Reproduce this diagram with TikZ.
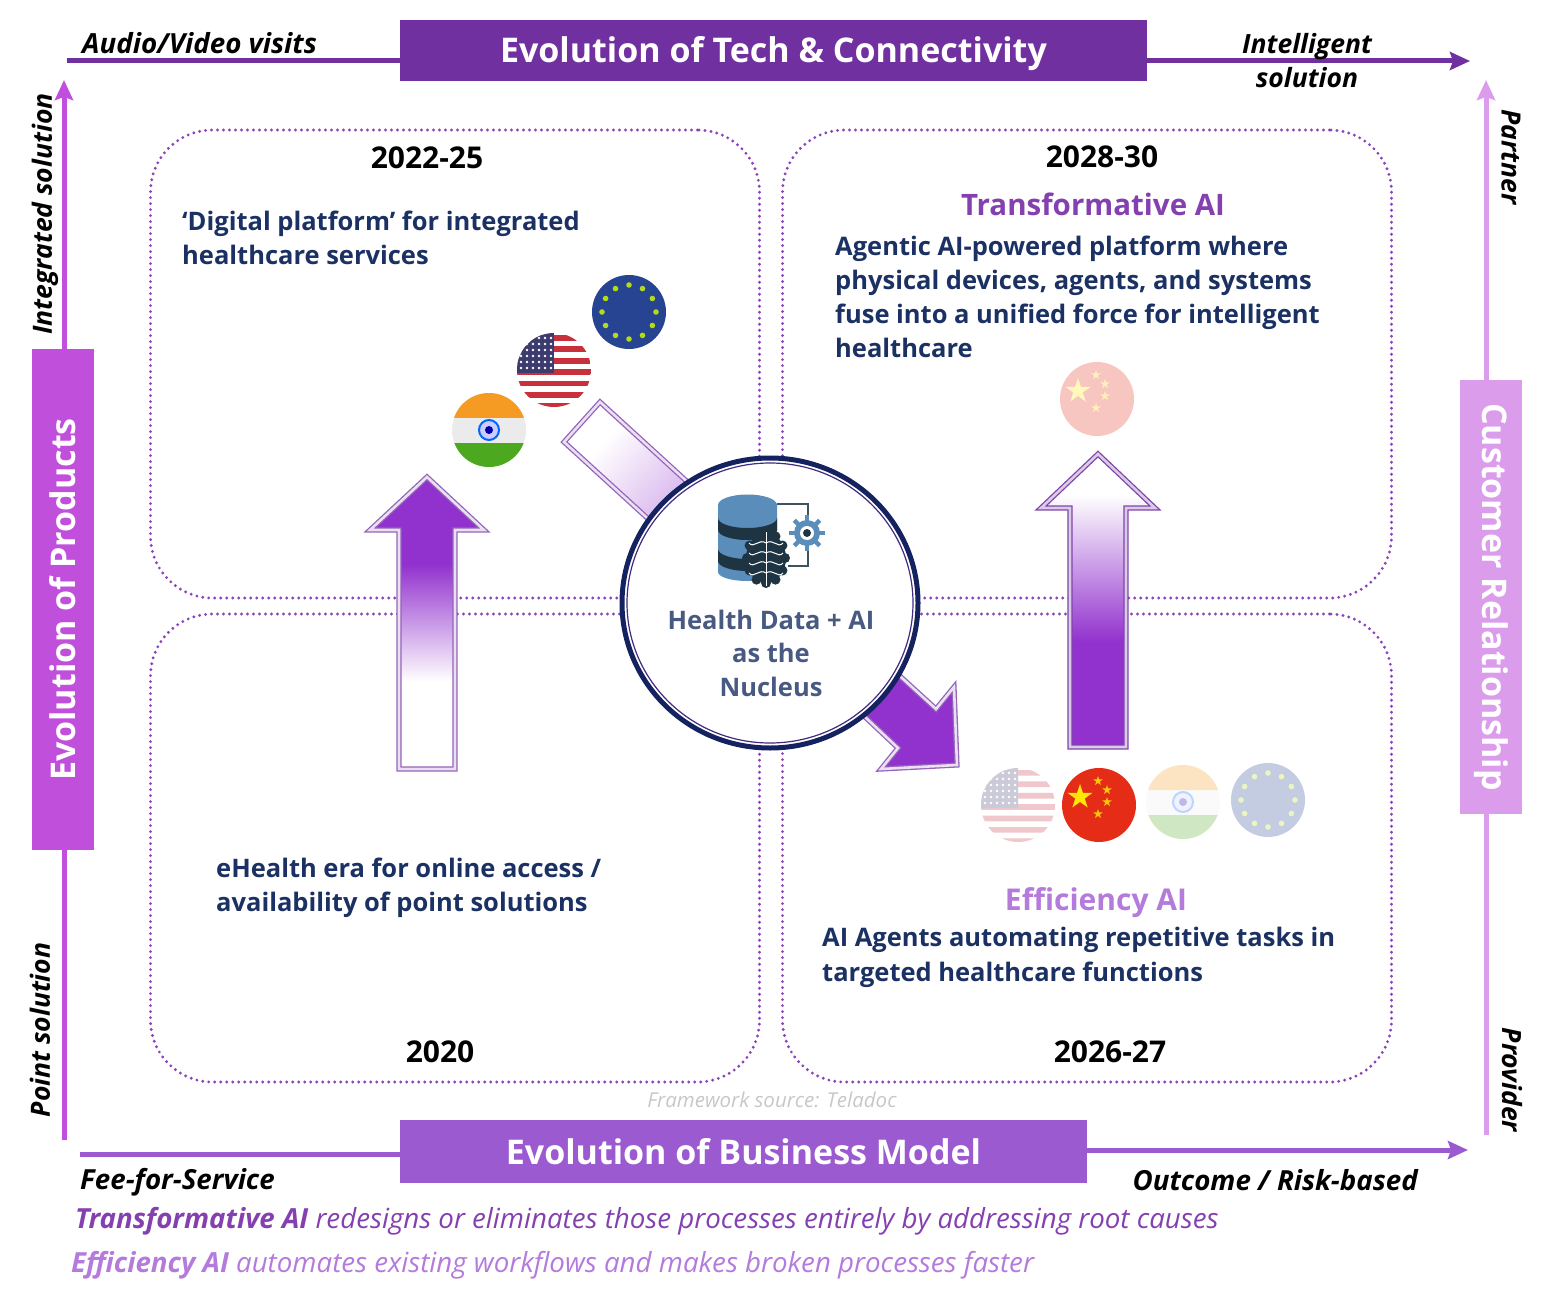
\documentclass[tikz,border=0pt]{standalone}
\usepackage{fontspec}
\setmainfont{Open Sans}
\usepackage{xcolor}
\usetikzlibrary{arrows.meta,positioning}
\definecolor{techpurple}{HTML}{7030A0}
\definecolor{productpurple}{HTML}{C04FDC}
\definecolor{modelpurple}{HTML}{9C5AD0}
\definecolor{clientpurple}{HTML}{DC9CEC}
\definecolor{arrowpurple}{HTML}{9232CE}
\definecolor{dotpurple}{HTML}{8A44B8}
\definecolor{bodynavy}{HTML}{1B3163}
\definecolor{ringnavy}{HTML}{14235F}
\definecolor{headpurple}{HTML}{8540B0}
\definecolor{softpurple}{HTML}{B47ADC}
\definecolor{dbblue}{HTML}{5B8DBA}
\definecolor{dbdark}{HTML}{1E3442}
\definecolor{flagorange}{HTML}{F59A23}
\definecolor{flaggreen}{HTML}{4CA81E}
\definecolor{flagred}{HTML}{C8303C}
\definecolor{flagnavy}{HTML}{3C3B6E}
\definecolor{flagblue}{HTML}{264491}
\definecolor{flagchina}{HTML}{E42C16}
\newcommand\fs[1]{\fontsize{#1}{#1}\selectfont}
\newcommand\flagstar[2]{\fill[shift={(#1)},scale=#2] (0,-1) -- (0.59,0.81) -- (-0.95,-0.31) -- (0.95,-0.31) -- (-0.59,0.81) -- cycle;}
\pgfdeclareverticalshading{fadeup}{100bp}{color(0bp)=(white);color(40bp)=(white);color(60bp)=(arrowpurple);color(100bp)=(arrowpurple)}
\pgfdeclareverticalshading{fadedown}{100bp}{color(0bp)=(arrowpurple);color(43bp)=(arrowpurple);color(68bp)=(white);color(100bp)=(white)}
\pgfdeclareverticalshading{fadeacross}{100bp}{color(0bp)=(white);color(22bp)=(white);color(58bp)=(arrowpurple);color(100bp)=(arrowpurple)}
\tikzset{
  banner/.style={inner sep=0pt, text=white, font=\fs{34}\bfseries},
  quadrant/.style={draw=dotpurple, line width=3.2pt, dash pattern=on 0pt off 6pt, line cap=round, rounded corners=62pt, minimum width=609pt, minimum height=468pt, inner sep=0pt},
  flow/.style={line width=5pt, -{Stealth[length=20pt,width=18pt,inset=3pt]}},
  year/.style={font=\fs{30}\bfseries, text=black, inner sep=0pt},
  bodytext/.style={font=\fs{25.5}\bfseries, text=bodynavy, align=left, anchor=north west, inner sep=0pt},
  heading/.style={font=\fs{30}\bfseries, inner sep=0pt},
  axislabel/.style={font=\fs{27.7}\bfseries\itshape, text=black, inner sep=0pt},
  sidelabel/.style={font=\fs{26.5}\bfseries\itshape, text=black, inner sep=0pt},
  blockarrow/.style={line width=1.3pt, double distance=2.6pt, miter limit=10},
  pics/indiaflag/.style={code={
    \begin{scope}
      \clip (0,0) circle (37);
      \fill[white!92!black] (-37,-37) rectangle (37,37);
      \fill[flagorange] (-37,-37) rectangle (37,-12);
      \fill[flaggreen] (-37,13) rectangle (37,37);
      \draw[blue!60!cyan, line width=2pt, fill=blue!20] (0,0) circle (10);
      \fill[blue!65!black] (0,0) circle (4);
    \end{scope}}},
  pics/usaflag/.style={code={
    \begin{scope}
      \clip (0,0) circle (37);
      \fill[white] (-37,-37) rectangle (37,37);
      \foreach \stripe in {-35,-23.6,...,34} {
        \fill[flagred] (-37,\stripe) rectangle (37,\stripe+5.7);
      }
      \fill[flagnavy] (-37,-37) rectangle (0,3);
      \foreach \row in {-32,-26,...,0} {
        \foreach \col in {-33,-27,...,-3} {
          \fill[white] (\col,\row) circle (1.3);
        }
      }
    \end{scope}}},
  pics/euflag/.style={code={
    \fill[flagblue] (0,0) circle (37);
    \foreach \star in {0,30,...,330} {
      \fill[yellow!70!green] (\star:27) circle (2.8);
    }}},
  pics/chinaflag/.style={code={
    \fill[flagchina] (0,0) circle (37);
    \begin{scope}[yellow!90!orange]
      \flagstar{-19,-8}{13}
    \end{scope}
    \begin{scope}[yellow!60!orange]
      \flagstar{-1,-24}{5}
      \flagstar{8,-15}{5}
      \flagstar{8,-3}{5}
      \flagstar{-1,9}{5}
    \end{scope}}},
}
\begin{document}
\begin{tikzpicture}[x=1pt, y=-1pt]
  \useasboundingbox (0,0) rectangle (1563,1297);

  % Dotted quadrants
  \node[quadrant] (pastbox) at (455,364) {};
  \node[quadrant] (futurebox) at (1087,364) {};
  \node[quadrant] (startbox) at (455,848) {};
  \node[quadrant] (nowbox) at (1087,848) {};

  % Banners and their axis lines
  \node[banner, fill=techpurple, minimum width=747pt, minimum height=61pt] (techbanner) at (773.5,50.5) {};
  \node[banner] (techtext) at (773.5,53.5) {Evolution of Tech \& Connectivity};
  \coordinate (techstart) at (67,61);
  \coordinate (techend) at (1470,61);
  \draw[line width=5pt, techpurple] (techstart) -- (techbanner.west |- techstart);
  \draw[flow, techpurple] (techbanner.east |- techend) -- (techend);

  \node[banner, fill=modelpurple, minimum width=687pt, minimum height=63pt] (modelbanner) at (743.5,1151.5) {Evolution of Business Model};
  \coordinate (modelstart) at (80,1154);
  \coordinate (modelend) at (1468,1150);
  \draw[line width=5pt, modelpurple] (modelstart) -- (modelbanner.west |- modelstart);
  \draw[flow, modelpurple] (modelbanner.east |- modelend) -- (modelend);

  \node[banner, fill=productpurple, minimum width=62pt, minimum height=501pt] (productbox) at (63,599.5) {};
  \node[banner, rotate=90] (producttext) at (productbox.center) {Evolution of Products};
  \coordinate (productstart) at (64,1140);
  \coordinate (productend) at (64,80);
  \draw[line width=5pt, productpurple] (productstart) -- (productbox.south -| productstart);
  \draw[flow, productpurple] (productbox.north -| productend) -- (productend);

  \node[banner, fill=clientpurple, minimum width=62pt, minimum height=434pt] (clientbox) at (1491,597) {};
  \node[banner, rotate=-90] (clienttext) at (clientbox.center) {Customer Relationship};
  \coordinate (clientstart) at (1486,1135);
  \coordinate (clientend) at (1486,80);
  \draw[line width=5pt, clientpurple] (clientstart) -- (clientbox.south -| clientstart);
  \draw[flow, clientpurple] (clientbox.north -| clientend) -- (clientend);

  % Axis labels
  \node[axislabel, anchor=west] (audiolabel) at (82,43) {Audio/Video visits};
  \node[sidelabel, align=center] (smartlabel) at (1307,61) {Intelligent\\[7.5pt]solution};
  \node[axislabel, anchor=west] (feelabel) at (80,1182) {Fee-for-Service};
  \node[axislabel, anchor=east] (riskabel) at (1418,1180) {Outcome / Risk-based};
  \node[sidelabel, rotate=90] (integratedlabel) at (45,214) {Integrated solution};
  \node[sidelabel, rotate=90] (pointlabel) at (40,1030) {Point solution};
  \node[sidelabel, rotate=-90] (partnerlabel) at (1511,157) {Partner};
  \node[sidelabel, rotate=-90] (providerlabel) at (1512,1080) {Provider};

  % Block arrows
  \shadedraw[shading=fadeup, blockarrow, draw=techpurple!75, double=techpurple!15] (427,477) -- (484,530) -- (455,530) -- (455,769) -- (399,769) -- (399,530) -- (370,530) -- cycle;
  \shadedraw[shading=fadedown, blockarrow, draw=techpurple!90, double=techpurple!25] (1098,454) -- (1155,508) -- (1126,508) -- (1126,747) -- (1070,747) -- (1070,508) -- (1041,508) -- cycle;
  \shadedraw[shading=fadeacross, shading angle=-132, blockarrow, draw=techpurple!75, double=techpurple!15] (600,402) -- (902,678) -- (936,709) -- (954,687) -- (957,765) -- (881,769) -- (898,748) -- (864,716) -- (564,442) -- cycle;

  % Flags
  \pic at (489,430) {indiaflag};
  \pic at (554,370) {usaflag};
  \pic at (629,312) {euflag};
  \pic at (1099,805) {chinaflag};
  \begin{scope}[transparency group, opacity=0.27]
    \pic at (1097,399) {chinaflag};
    \pic at (1018,805) {usaflag};
    \pic at (1183,802) {indiaflag};
    \pic at (1268,800) {euflag};
  \end{scope}

  % Nucleus
  \draw[ringnavy, line width=5pt, fill=white] (770,603) ellipse (148 and 145);
  \draw[techpurple!50!ringnavy, line width=1.2pt] (770,603) ellipse (143 and 140);

  % Icon
  \fill[dbblue] (718,505) -- (718,572) arc (180:0:29.5 and 9) -- (777,505) -- cycle;
  \fill[dbdark] (718,518) arc (180:0:29.5 and 10) -- (777,530) arc (0:180:29.5 and 10) -- cycle;
  \fill[dbdark] (718,549) arc (180:0:29.5 and 10) -- (777,561) arc (0:180:29.5 and 10) -- cycle;
  \fill[dbblue] (747.5,505) ellipse (29.5 and 10.5);
  \draw[dbdark!85, line width=2pt] (777,504) -- (808,504) -- (808,566) -- (788,566);
  \fill[dbblue] (807,533) circle (13);
  \foreach \tooth in {0,45,...,315} {
    \draw[dbblue, line width=4.5pt] (807,533) -- ++(\tooth:18);
  }
  \fill[white] (807,533) circle (7);
  \fill[dbdark] (807,533) circle (4);
  \fill[dbdark] (766,558) ellipse (20 and 25);
  \foreach \lobe in {-30,-60,...,-150,30,60,...,150,0,180} {
    \fill[dbdark] ([shift={(766,558)}]\lobe:19 and 25) circle (5);
  }
  \draw[white, line width=1pt] (766,532) -- (766,586);
  \foreach \fold in {543,553,563,573} {
    \draw[white, line width=1pt] (766,\fold) .. controls (759,\fold-5) and (754,\fold+6) .. (749,\fold);
    \draw[white, line width=1pt] (766,\fold) .. controls (773,\fold-5) and (778,\fold+6) .. (783,\fold);
  }

  \node[inner sep=0pt, align=center, font=\fs{25.5}\bfseries, text=bodynavy!80] (nucleustext) at (771,653) {Health Data + AI\\[8pt]as the\\[8pt]Nucleus};

  % Quadrant texts
  \node[year] (yearpast) at (427,158) {2022-25};
  \node[year] (yearfuture) at (1102,157) {2028-30};
  \node[year] (yearstart) at (440,1052) {2020};
  \node[year] (yearnow) at (1110,1052) {2026-27};
  \node[bodytext] (pasttext) at (182,211) {‘Digital platform’ for integrated\\[8pt]healthcare services};
  \node[heading, text=headpurple, font=\fs{29.5}\bfseries] (transformhead) at (1093,204) {Transformative AI};
  \node[bodytext] (futuretext) at (835,236) {Agentic AI-powered platform where\\[8pt]physical devices, agents, and systems\\[8pt]fuse into a unified force for intelligent\\[8pt]healthcare};
  \node[bodytext] (starttext) at (216,858) {eHealth era for online access /\\[8pt]availability of point solutions};
  \node[heading, text=softpurple] (efficiencyhead) at (1096,903) {Efficiency AI};
  \node[bodytext] (nowtext) at (822,927) {AI Agents automating repetitive tasks in\\[8pt]targeted healthcare functions};

  % Footer
  \node[inner sep=0pt, font=\fs{20.5}\itshape, text=black!22] (sourcetext) at (772,1100) {Framework source: Teladoc};
  \node[inner sep=0pt, anchor=west, font=\fs{27.7}\itshape, text=headpurple] (transformnote) at (75,1221) {\textbf{Transformative AI} redesigns or eliminates those processes entirely by addressing root causes};
  \node[inner sep=0pt, anchor=west, font=\fs{27.7}\itshape, text=softpurple] (efficiencynote) at (71,1265) {\textbf{Efficiency AI} automates existing workflows and makes broken processes faster};
\end{tikzpicture}
\end{document}
